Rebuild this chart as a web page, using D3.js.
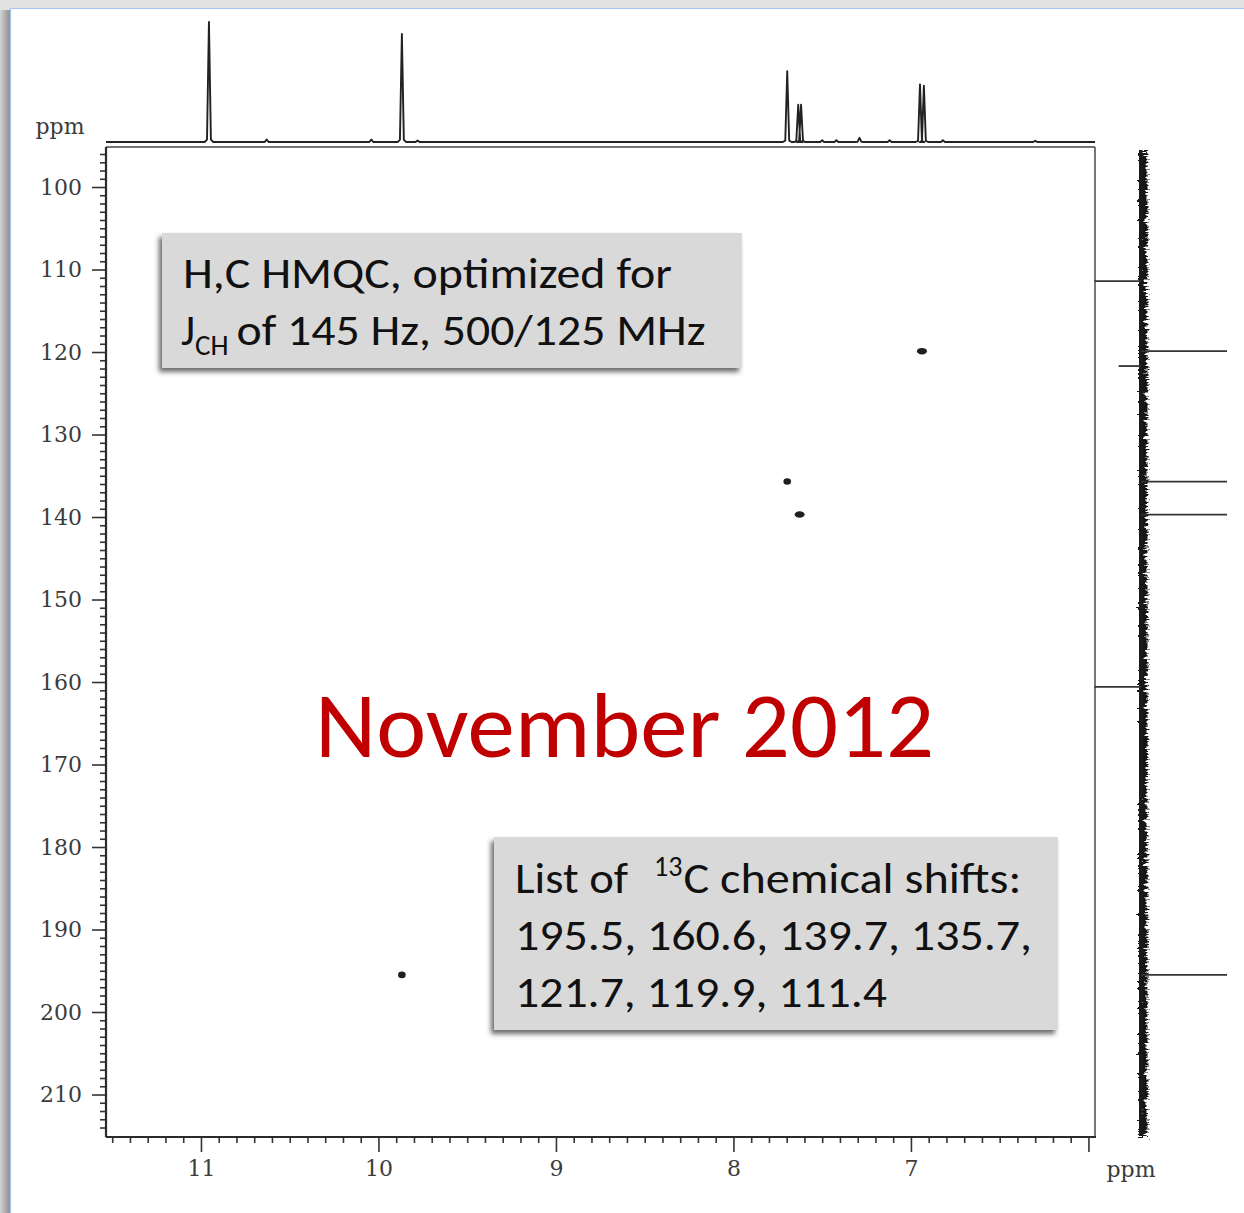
<!DOCTYPE html>
<html>
<head>
<meta charset="utf-8">
<script src="https://cdn.jsdelivr.net/npm/d3@7"></script>
<style>
  body { margin: 0; background: #e2e2e2; overflow: hidden; }
  svg { display: block; }
</style>
</head>
<body>
<svg id="chart" width="1244" height="1213"></svg>
<script>
// ---- 1H projection (top trace): shift in ppm and relative height ----
const protonShifts  = [10.955, 10.63, 10.04, 9.868, 9.78, 7.697, 7.635, 7.619, 7.50, 7.42, 7.29, 7.12, 6.949, 6.927, 6.82, 6.30];
const protonHeights = [1.00,   0.02,  0.02,  0.90,  0.012, 0.59, 0.31,  0.31,  0.015, 0.015, 0.035, 0.015, 0.48, 0.47,  0.015, 0.01];

// ---- 13C projection (right trace): shift in ppm and signed intensity ----
const carbonShifts    = [195.5, 160.6, 139.7, 135.7, 121.7, 119.9, 111.4];
const carbonIntensity = [1.0,  -0.54,  1.0,   1.0,  -0.26,  1.0,  -0.54];

// ---- HMQC cross peaks (1H ppm, 13C ppm) ----
const crossH = [6.938, 7.697, 7.627, 9.868];
const crossC = [119.9, 135.7, 139.7, 195.5];
const crossLines = [2, 1, 2, 1]; // resolved multiplet components in each contour

// ---- axis ticks ----
const xMajorTicks  = [6, 7, 8, 9, 10, 11];
const xTickLabels  = ["", "7", "8", "9", "10", "11"];
const yMajorTicks  = [100, 110, 120, 130, 140, 150, 160, 170, 180, 190, 200, 210];
const yTickLabels  = ["100", "110", "120", "130", "140", "150", "160", "170", "180", "190", "200", "210"];
const xMinorStep = 0.1, yMinorStep = 1;

// ---- annotation text ----
const titleLines = ["H,C HMQC, optimized for", "of 145 Hz, 500/125 MHz"];
const shiftListHead = "C chemical shifts:";
const shiftListLines = ["195.5, 160.6, 139.7, 135.7,", "121.7, 119.9, 111.4"];
const dateText = "November 2012";

// ---- layout ----
const plot = { left: 106, right: 1095, top: 147, bottom: 1137 };
const svg = d3.select("#chart");
const defs = svg.append("defs");

// window chrome
const lg = defs.append("linearGradient").attr("id", "edge").attr("x1", 0).attr("x2", 1);
lg.append("stop").attr("offset", 0).attr("stop-color", "#d4d4d4");
lg.append("stop").attr("offset", 1).attr("stop-color", "#8e8e8e");
svg.append("rect").attr("x", 0).attr("y", 0).attr("width", 1244).attr("height", 1213).attr("fill", "#e2e2e2");
svg.append("rect").attr("x", 0).attr("y", 10).attr("width", 10).attr("height", 1203).attr("fill", "url(#edge)");
svg.append("rect").attr("x", 10.5).attr("y", 8.5).attr("width", 1240).attr("height", 1210)
  .attr("fill", "#ffffff").attr("stroke", "#a9c4ee").attr("stroke-width", 1.2);

// filters
const shadow = defs.append("filter").attr("id", "shadow")
  .attr("x", "-5%").attr("y", "-10%").attr("width", "110%").attr("height", "125%");
shadow.append("feGaussianBlur").attr("in", "SourceAlpha").attr("stdDeviation", 2.6).attr("result", "b");
shadow.append("feOffset").attr("in", "b").attr("dx", -3).attr("dy", 4).attr("result", "o");
shadow.append("feFlood").attr("flood-color", "#3a3a3a").attr("flood-opacity", 0.75).attr("result", "f");
shadow.append("feComposite").attr("in", "f").attr("in2", "o").attr("operator", "in").attr("result", "s");
const sm = shadow.append("feMerge");
sm.append("feMergeNode").attr("in", "s");
sm.append("feMergeNode").attr("in", "SourceGraphic");

// rough edge for the noisy 13C baseline
const jag = defs.append("filter").attr("id", "jag").attr("filterUnits", "userSpaceOnUse")
  .attr("x", 1115).attr("y", 140).attr("width", 50).attr("height", 1005);
jag.append("feTurbulence").attr("type", "turbulence").attr("baseFrequency", "0.06 0.3")
  .attr("numOctaves", 2).attr("seed", 7).attr("result", "t");
jag.append("feDisplacementMap").attr("in", "SourceGraphic").attr("in2", "t")
  .attr("scale", 9).attr("xChannelSelector", "R").attr("yChannelSelector", "B");

// scales
const x = d3.scaleLinear().domain([11.535, 5.963]).range([plot.left, plot.right]);
const y = d3.scaleLinear().domain([95.15, 215.15]).range([plot.top, plot.bottom]);
const hTrace = d3.scaleLinear().domain([0, 1]).range([142, 22]);
const cTrace = d3.scaleLinear().domain([0, 1]).range([1141, 1227]);

const axisFont = "'DejaVu Serif', serif";
const axisColor = "#3c3c3c";

// ---- x axis ----
const xMinor = d3.range(Math.round(5.96 / xMinorStep) + 1, Math.round(11.5 / xMinorStep) + 1)
  .map(i => +(i * xMinorStep).toFixed(1)).filter(v => !xMajorTicks.includes(v));
svg.append("g").attr("transform", `translate(0,${plot.bottom})`)
  .call(d3.axisBottom(x).tickValues(xMinor).tickSize(6).tickFormat(""))
  .call(g => g.select(".domain").remove())
  .call(g => g.selectAll("line").attr("stroke", "#333").attr("stroke-width", 1.6));
svg.append("g").attr("transform", `translate(0,${plot.bottom})`)
  .call(d3.axisBottom(x).tickValues(xMajorTicks).tickSize(15).tickPadding(8)
    .tickFormat((d, i) => xTickLabels[i]))
  .call(g => g.select(".domain").remove())
  .call(g => g.selectAll("line").attr("stroke", "#333").attr("stroke-width", 1.6))
  .call(g => g.selectAll("text").attr("font-family", axisFont).attr("font-size", 22).attr("fill", axisColor));

// ---- y axis ----
const yMinor = d3.range(96, 215, yMinorStep).filter(v => !yMajorTicks.includes(v));
svg.append("g").attr("transform", `translate(${plot.left},0)`)
  .call(d3.axisLeft(y).tickValues(yMinor).tickSize(6).tickFormat(""))
  .call(g => g.select(".domain").remove())
  .call(g => g.selectAll("line").attr("stroke", "#333").attr("stroke-width", 1.6));
svg.append("g").attr("transform", `translate(${plot.left},0)`)
  .call(d3.axisLeft(y).tickValues(yMajorTicks).tickSize(14).tickPadding(10)
    .tickFormat((d, i) => yTickLabels[i]))
  .call(g => g.select(".domain").remove())
  .call(g => g.selectAll("line").attr("stroke", "#333").attr("stroke-width", 1.6))
  .call(g => g.selectAll("text").attr("font-family", axisFont).attr("font-size", 22).attr("fill", axisColor));

// unit labels
svg.append("text").attr("x", 60).attr("y", 134).attr("text-anchor", "middle")
  .attr("font-family", axisFont).attr("font-size", 22).attr("fill", axisColor).text("ppm");
svg.append("text").attr("x", 1131).attr("y", 1177).attr("text-anchor", "middle")
  .attr("font-family", axisFont).attr("font-size", 22).attr("fill", axisColor).text("ppm");

// ---- plot frame ----
svg.append("line").attr("x1", plot.left).attr("x2", plot.right).attr("y1", plot.top).attr("y2", plot.top)
  .attr("stroke", "#444").attr("stroke-width", 1.6);
svg.append("line").attr("x1", plot.right).attr("x2", plot.right).attr("y1", plot.top).attr("y2", plot.bottom)
  .attr("stroke", "#555").attr("stroke-width", 1.6);
svg.append("line").attr("x1", plot.left).attr("x2", plot.left).attr("y1", plot.top).attr("y2", plot.bottom)
  .attr("stroke", "#2a2a2a").attr("stroke-width", 2.2);
svg.append("line").attr("x1", plot.left).attr("x2", plot.right + 1).attr("y1", plot.bottom).attr("y2", plot.bottom)
  .attr("stroke", "#2a2a2a").attr("stroke-width", 2.2);

// ---- 1H projection trace ----
const halfWidth = 0.011;
const pts = [[x.domain()[0], 0]];
protonShifts.map((s, i) => ({ s, h: protonHeights[i] }))
  .sort((a, b) => b.s - a.s)
  .forEach(p => {
    pts.push([p.s + halfWidth * 2.2, 0], [p.s + halfWidth, p.h * 0.02], [p.s, p.h], [p.s - halfWidth, p.h * 0.02], [p.s - halfWidth * 2.2, 0]);
  });
pts.push([x.domain()[1], 0]);
svg.append("path")
  .attr("d", d3.line().x(d => x(d[0])).y(d => hTrace(d[1]))(pts))
  .attr("fill", "none").attr("stroke", "#222").attr("stroke-width", 1.9).attr("stroke-linejoin", "round");

// ---- 13C projection trace: solid core plus ragged noise envelope ----
svg.append("rect").attr("x", 1138).attr("y", 149).attr("width", 6.5).attr("height", 986)
  .attr("fill", "#161616").attr("filter", "url(#jag)");
svg.append("rect").attr("x", 1139).attr("y", 150).attr("width", 3.5).attr("height", 984)
  .attr("fill", "#1a1a1a");
svg.append("g").selectAll("line").data(carbonShifts).join("line")
  .attr("x1", cTrace(0))
  .attr("x2", (d, i) => cTrace(carbonIntensity[i]))
  .attr("y1", d => y(d)).attr("y2", d => y(d))
  .attr("stroke", "#333").attr("stroke-width", 1.8);

// ---- cross peaks ----
svg.append("g").selectAll("ellipse").data(crossH).join("ellipse")
  .attr("cx", d => x(d))
  .attr("cy", (d, i) => y(crossC[i]))
  .attr("rx", (d, i) => crossLines[i] > 1 ? 5 : 3.8)
  .attr("ry", 3.3)
  .attr("fill", "#1f1f1f");

// ---- annotation boxes ----
const textFont = "Carlito, Lato, 'Open Sans', sans-serif";
const box1 = svg.append("g");
box1.append("rect").attr("x", 162).attr("y", 233).attr("width", 580).attr("height", 135)
  .attr("fill", "#d9d9d9").attr("filter", "url(#shadow)");
box1.append("text").attr("x", 183).attr("y", 288).attr("font-family", textFont).attr("font-size", 44)
  .attr("fill", "#111").attr("textLength", 489).attr("lengthAdjust", "spacingAndGlyphs").text(titleLines[0]);
const t2 = box1.append("text").attr("x", 181).attr("y", 345).attr("font-family", textFont).attr("font-size", 44)
  .attr("fill", "#111");
t2.append("tspan").text("J");
t2.append("tspan").attr("font-size", 29).attr("dy", 10).text("CH");
t2.append("tspan").attr("dy", -10).attr("dx", 8).attr("textLength", 469).attr("lengthAdjust", "spacingAndGlyphs")
  .text(titleLines[1]);

const box2 = svg.append("g");
box2.append("rect").attr("x", 494).attr("y", 837).attr("width", 564).attr("height", 193)
  .attr("fill", "#d9d9d9").attr("filter", "url(#shadow)");
const h2 = box2.append("text").attr("x", 515).attr("y", 893).attr("font-family", textFont).attr("font-size", 44)
  .attr("fill", "#111");
h2.append("tspan").attr("textLength", 113).attr("lengthAdjust", "spacingAndGlyphs").text("List of");
h2.append("tspan").attr("font-size", 28).attr("dy", -17).attr("dx", 26).text("13");
h2.append("tspan").attr("dy", 17).attr("dx", 1).attr("textLength", 338).attr("lengthAdjust", "spacingAndGlyphs")
  .text(shiftListHead);
shiftListLines.forEach((line, i) => {
  box2.append("text").attr("x", 515).attr("y", 950 + i * 57).attr("font-family", textFont).attr("font-size", 44)
    .attr("fill", "#111").attr("textLength", i === 0 ? 517 : 372).attr("lengthAdjust", "spacingAndGlyphs").text(line);
});

// date stamp
svg.append("text").attr("x", 315).attr("y", 757).attr("font-family", textFont).attr("font-size", 92)
  .attr("fill", "#c00000").attr("textLength", 619).attr("lengthAdjust", "spacingAndGlyphs").text(dateText);
</script>
</body>
</html>
